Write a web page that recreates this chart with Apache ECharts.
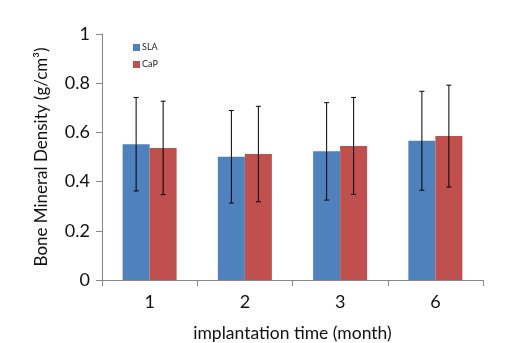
<!DOCTYPE html>
<html><head><meta charset="utf-8">
<script src="https://cdn.jsdelivr.net/npm/echarts@6/dist/echarts.min.js"></script>
<style>html,body{margin:0;padding:0;background:#fff}#c{width:505px;height:343px}</style>
</head><body><div id="c"></div>
<script>
const categories = ['1','2','3','6'];
const slaValues = [0.552, 0.501, 0.523, 0.566];
const slaErr = [0.19, 0.188, 0.198, 0.201];
const capValues = [0.537, 0.512, 0.545, 0.585];
const capErr = [0.19, 0.194, 0.197, 0.207];
const yTicks = [0, 0.2, 0.4, 0.6, 0.8, 1];

const FONT = 'Lato';
const BAR_W = 27;

function errSeries(values, errs, offset) {
  return {
    type: 'custom',
    z: 10,
    data: values.map((v, i) => [i, v - errs[i], v + errs[i]]),
    renderItem: function (params, api) {
      const lo = api.coord([api.value(0), api.value(1)]);
      const hi = api.coord([api.value(0), api.value(2)]);
      const x = lo[0] + offset;
      const cap = 2.5;
      const st = { stroke: '#000', lineWidth: 1 };
      return { type: 'group', children: [
        { type: 'line', shape: { x1: x, y1: lo[1], x2: x, y2: hi[1] }, style: st },
        { type: 'line', shape: { x1: x - cap, y1: lo[1], x2: x + cap, y2: lo[1] }, style: st },
        { type: 'line', shape: { x1: x - cap, y1: hi[1], x2: x + cap, y2: hi[1] }, style: st }
      ]};
    }
  };
}

const chart = echarts.init(document.getElementById('c'), null, { renderer: 'canvas' });
chart.setOption({
  animation: false,
  textStyle: { fontFamily: FONT },
  grid: { left: 102, right: 22, top: 34, bottom: 63, containLabel: false, outerBoundsMode: 'none' },
  legend: {
    left: 128, top: 38, orient: 'vertical', itemGap: 8,
    itemWidth: 7, itemHeight: 7, icon: 'rect',
    textStyle: { fontSize: 9, color: '#222', fontFamily: FONT, padding: [0, 0, 0, -3] },
    data: ['SLA', 'CaP']
  },
  xAxis: {
    type: 'category', data: categories,
    axisLine: { lineStyle: { color: '#888', width: 1 } },
    axisTick: { show: true, length: 6, lineStyle: { color: '#888' } },
    axisLabel: { fontSize: 18, color: '#111', margin: 13, fontFamily: FONT },
    name: 'implantation time (month)', nameLocation: 'middle', nameGap: 44,
    nameTextStyle: { fontSize: 17.5, color: '#111', fontFamily: FONT }
  },
  yAxis: {
    type: 'value', min: 0, max: 1, interval: 0.2,
    axisLine: { show: true, lineStyle: { color: '#888', width: 1 } },
    axisTick: { show: true, length: 6, lineStyle: { color: '#888' } },
    splitLine: { show: false },
    axisLabel: { fontSize: 18, color: '#111', margin: 12, fontFamily: FONT,
      formatter: v => { const t = yTicks.find(k => Math.abs(k - v) < 1e-9); return String(t); } },
    name: 'Bone Mineral Density (g/cm³)', nameLocation: 'middle', nameGap: 52,
    nameTextStyle: { fontSize: 17, color: '#111', fontFamily: FONT }
  },
  series: [
    { name: 'SLA', type: 'bar', data: slaValues, barWidth: BAR_W, barGap: '0%',
      itemStyle: { color: '#4F81BD' } },
    { name: 'CaP', type: 'bar', data: capValues, barWidth: BAR_W, barGap: '0%',
      itemStyle: { color: '#C0504D' } },
    errSeries(slaValues, slaErr, -BAR_W / 2),
    errSeries(capValues, capErr, BAR_W / 2)
  ]
});
</script></body></html>
